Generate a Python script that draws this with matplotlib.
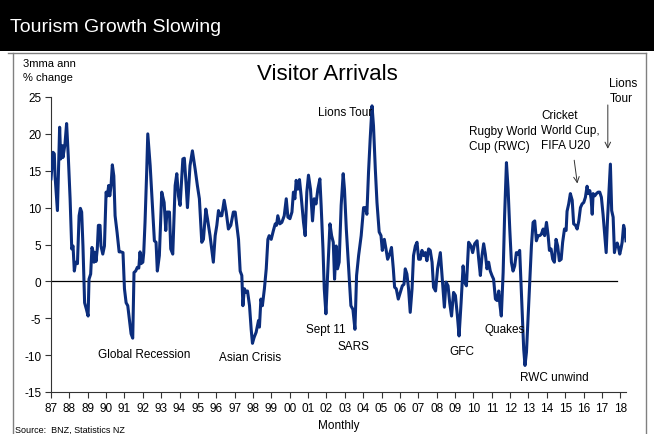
import matplotlib
matplotlib.use("Agg")
import matplotlib.pyplot as plt
from matplotlib.patches import Rectangle
from matplotlib.lines import Line2D

plt.rcParams["font.family"] = ["Liberation Sans", "DejaVu Sans"]
plt.rcParams["axes.unicode_minus"] = False

# Visitor arrivals, 3mma annual % change (decimal year, value)
dates = [
    1987.00, 1987.11, 1987.18, 1987.22, 1987.35, 1987.47, 1987.53, 1987.62, 1987.65, 1987.76,
    1987.85, 1987.94, 1988.04, 1988.13, 1988.20, 1988.27, 1988.34, 1988.44, 1988.53, 1988.60,
    1988.67, 1988.74, 1988.83, 1988.93, 1989.02, 1989.07, 1989.16, 1989.23, 1989.31, 1989.34,
    1989.40, 1989.45, 1989.52, 1989.58, 1989.67, 1989.72, 1989.82, 1989.91, 1990.00, 1990.07,
    1990.14, 1990.20, 1990.27, 1990.34, 1990.42, 1990.49, 1990.60, 1990.71, 1990.81, 1990.92,
    1991.00, 1991.09, 1991.18, 1991.29, 1991.36, 1991.45, 1991.52, 1991.61, 1991.70, 1991.78,
    1991.85, 1991.90, 1992.00, 1992.05, 1992.12, 1992.21, 1992.27, 1992.40, 1992.57, 1992.63,
    1992.72, 1992.79, 1992.90, 1993.03, 1993.16, 1993.25, 1993.31, 1993.45, 1993.52, 1993.63,
    1993.76, 1993.85, 1993.94, 1994.03, 1994.18, 1994.26, 1994.36, 1994.43, 1994.57, 1994.70,
    1994.85, 1994.97, 1995.08, 1995.21, 1995.30, 1995.43, 1995.52, 1995.66, 1995.84, 1995.94,
    1996.03, 1996.12, 1996.21, 1996.30, 1996.43, 1996.54, 1996.66, 1996.79, 1996.93, 1997.03,
    1997.21, 1997.30, 1997.39, 1997.45, 1997.53, 1997.63, 1997.70, 1997.81, 1997.90, 1997.97,
    1998.06, 1998.17, 1998.30, 1998.35, 1998.43, 1998.51, 1998.62, 1998.72, 1998.81, 1998.88,
    1998.99, 1999.11, 1999.21, 1999.28, 1999.35, 1999.46, 1999.57, 1999.70, 1999.81, 1999.90,
    2000.01, 2000.12, 2000.20, 2000.28, 2000.35, 2000.44, 2000.53, 2000.62, 2000.75, 2000.84,
    2000.93, 2001.02, 2001.13, 2001.24, 2001.33, 2001.43, 2001.53, 2001.64, 2001.71, 2001.81,
    2001.88, 2001.97, 2002.06, 2002.19, 2002.28, 2002.37, 2002.44, 2002.53, 2002.60, 2002.69,
    2002.80, 2002.91, 2002.98, 2003.08, 2003.20, 2003.33, 2003.44, 2003.55, 2003.64, 2003.75,
    2003.89, 2004.02, 2004.13, 2004.20, 2004.29, 2004.38, 2004.48, 2004.56, 2004.66, 2004.75,
    2004.87, 2004.97, 2005.04, 2005.15, 2005.24, 2005.33, 2005.44, 2005.54, 2005.64, 2005.71,
    2005.80, 2005.91, 2006.02, 2006.13, 2006.22, 2006.29, 2006.38, 2006.47, 2006.56, 2006.66,
    2006.74, 2006.84, 2006.93, 2007.02, 2007.11, 2007.20, 2007.29, 2007.38, 2007.47, 2007.56,
    2007.65, 2007.75, 2007.83, 2007.94, 2008.05, 2008.20, 2008.29, 2008.42, 2008.51, 2008.62,
    2008.71, 2008.81, 2008.92, 2009.02, 2009.13, 2009.22, 2009.33, 2009.44, 2009.52, 2009.62,
    2009.74, 2009.87, 2009.96, 2010.07, 2010.20, 2010.29, 2010.38, 2010.47, 2010.56, 2010.65,
    2010.74, 2010.83, 2010.92, 2011.01, 2011.10, 2011.20, 2011.29, 2011.38, 2011.45, 2011.52,
    2011.62, 2011.70, 2011.80, 2011.89, 2011.98, 2012.07, 2012.16, 2012.25, 2012.34, 2012.43,
    2012.52, 2012.60, 2012.67, 2012.74, 2012.81, 2012.89, 2012.98, 2013.07, 2013.16, 2013.25,
    2013.34, 2013.43, 2013.52, 2013.61, 2013.70, 2013.80, 2013.88, 2013.98, 2014.07, 2014.14,
    2014.23, 2014.32, 2014.41, 2014.50, 2014.59, 2014.68, 2014.78, 2014.86, 2014.96, 2015.05,
    2015.10, 2015.19, 2015.28, 2015.38, 2015.46, 2015.56, 2015.65, 2015.74, 2015.83, 2015.92,
    2016.01, 2016.10, 2016.19, 2016.26, 2016.34, 2016.41, 2016.47, 2016.52, 2016.61, 2016.70,
    2016.79, 2016.88, 2016.97, 2017.06, 2017.15, 2017.23, 2017.30, 2017.39, 2017.46, 2017.53,
    2017.61, 2017.68, 2017.75, 2017.83, 2017.90, 2017.97, 2018.05, 2018.10, 2018.18, 2018.25,
    2018.31,
]
arrivals_pct = [
    13.9, 17.5, 17.3, 14.3, 9.6, 20.9, 16.6, 18.4, 16.8, 18.6,
    21.4, 17.0, 11.2, 4.4, 4.8, 1.4, 2.6, 2.4, 8.9, 9.9,
    9.4, 4.8, -2.9, -3.8, -4.7, 0.3, 1.0, 4.6, 3.9, 2.6,
    3.9, 2.7, 4.4, 7.6, 7.6, 4.8, 3.7, 4.8, 12.1, 11.6,
    13.0, 11.6, 13.0, 15.8, 14.3, 8.9, 6.6, 4.0, 4.0, 3.9,
    -1.0, -2.9, -3.3, -5.6, -7.1, -7.7, 1.2, 1.4, 1.9, 1.8,
    4.0, 2.4, 2.6, 3.9, 8.0, 14.8, 20.0, 15.7, 8.0, 5.5,
    5.3, 1.4, 3.5, 12.1, 10.7, 6.9, 9.4, 9.4, 4.4, 3.7,
    13.0, 14.6, 11.6, 10.3, 16.6, 16.7, 13.0, 10.0, 15.7, 17.7,
    15.2, 13.0, 11.2, 5.3, 5.7, 9.8, 8.5, 6.2, 2.6, 6.2,
    7.6, 9.6, 8.9, 8.9, 11.0, 9.4, 7.1, 7.6, 9.4, 9.4,
    5.7, 1.4, 0.8, -3.3, -1.0, -1.5, -1.3, -3.3, -6.5, -8.4,
    -7.6, -6.9, -5.3, -6.2, -2.4, -3.3, -1.0, 1.7, 5.7, 6.2,
    5.7, 6.9, 7.8, 7.6, 8.9, 7.8, 8.0, 8.9, 11.2, 8.7,
    8.5, 9.4, 12.1, 11.2, 13.7, 12.5, 13.8, 11.6, 8.0, 6.2,
    12.1, 14.4, 12.5, 8.2, 11.2, 10.5, 12.5, 13.9, 10.3, 4.4,
    -1.0, -4.4, 0.8, 7.8, 6.2, 5.3, 0.3, 4.8, 1.7, 2.6,
    10.3, 14.6, 12.5, 7.1, 2.1, -3.3, -3.8, -6.5, 0.8, 3.5,
    6.2, 10.0, 10.0, 9.1, 14.8, 19.3, 23.8, 21.1, 15.2, 10.7,
    6.7, 6.2, 4.2, 5.7, 4.4, 3.0, 3.7, 4.6, 1.7, -0.8,
    -1.0, -2.4, -1.5, -0.6, -0.4, 1.7, 1.0, -1.0, -4.2, -1.0,
    3.5, 4.8, 5.3, 3.0, 3.0, 4.2, 3.5, 3.9, 2.8, 4.4,
    4.2, 2.6, -0.8, -1.3, 1.7, 3.9, 0.8, -3.5, -0.1, -0.6,
    -2.9, -4.7, -1.5, -1.9, -4.7, -7.4, -2.9, 2.1, -0.1, -0.6,
    5.3, 4.8, 3.9, 5.1, 5.5, 3.0, 0.8, 3.5, 5.1, 3.7,
    1.7, 2.6, 1.4, 0.8, 0.3, -2.4, -2.6, -1.3, -3.3, -4.7,
    1.2, 8.9, 16.1, 12.5, 7.1, 2.6, 1.4, 2.1, 3.9, 3.7,
    4.2, -0.6, -4.7, -9.2, -11.4, -9.6, -4.7, 0.3, 4.8, 8.0,
    8.2, 5.5, 6.2, 6.2, 6.4, 7.1, 6.2, 8.0, 6.2, 4.2,
    4.4, 3.0, 2.6, 5.7, 4.8, 2.8, 3.0, 5.3, 7.1, 6.9,
    9.5, 10.5, 11.9, 11.0, 7.8, 7.6, 7.1, 8.2, 10.0, 10.5,
    10.7, 11.4, 12.9, 11.9, 12.3, 11.2, 9.1, 11.9, 11.6, 11.9,
    12.1, 12.1, 11.4, 9.1, 6.4, 3.9, 8.2, 12.5, 15.9, 9.6,
    8.7, 3.9, 4.8, 5.2, 4.6, 3.7, 4.6, 5.3, 7.6, 6.9,
    5.5,
]

year_ticks = list(range(1987, 2019))
year_labels = [f"{y % 100:02d}" for y in year_ticks]
pct_ticks = [-15, -10, -5, 0, 5, 10, 15, 20, 25]

# event labels: (text, x, y, horizontal alignment)
events = [
    ("Lions Tour", 2004.5, 23.0, "right"),
    ("Global Recession", 1992.07, -9.8, "center"),
    ("Asian Crisis", 1997.85, -10.2, "center"),
    ("Sept 11", 2001.99, -6.5, "center"),
    ("SARS", 2003.48, -8.8, "center"),
    ("GFC", 2009.40, -9.4, "center"),
    ("Quakes", 2011.69, -6.4, "center"),
    ("RWC unwind", 2014.38, -12.9, "center"),
    ("Rugby World\nCup (RWC)", 2009.78, 19.4, "left"),
    ("Cricket\nWorld Cup,\nFIFA U20", 2013.70, 20.5, "left"),
    ("Lions\nTour", 2017.41, 25.9, "left"),
]

navy = "#0b2d7c"

fig = plt.figure(figsize=(6.54, 4.35), dpi=100)

# black header band + grey frame round the chart panel
fig.patches.append(Rectangle((0, 1 - 52 / 435), 1, 52 / 435, transform=fig.transFigure,
                             facecolor="black", edgecolor="none", zorder=0))
fig.add_artist(Line2D([8 / 654, 646 / 654], [1 - 54 / 435] * 2, color="#808080", lw=1))
fig.add_artist(Line2D([13 / 654] * 2, [0, 1 - 54 / 435], color="#808080", lw=1))
fig.add_artist(Line2D([646 / 654] * 2, [0, 1 - 54 / 435], color="#808080", lw=1))

fig.text(10 / 654, 1 - 27 / 435, "Tourism Growth Slowing", color="white",
         fontsize=14, va="center", ha="left")

ax = fig.add_axes([51 / 654, 42 / 435, 575 / 654, 295 / 435])
ax.plot(dates, arrivals_pct, color=navy, lw=2.2, solid_joinstyle="round", zorder=3)
ax.plot([1987, 2017.8], [0, 0], color="black", lw=0.9, zorder=2)

ax.set_xlim(1987, 2018.31)
ax.set_ylim(-15, 25)
ax.set_xticks(year_ticks)
ax.set_xticklabels(year_labels)
ax.set_yticks(pct_ticks)
ax.tick_params(length=4, width=0.8, labelsize=8.5, color="#333333", pad=3)
for side in ["top", "right"]:
    ax.spines[side].set_visible(False)
for side in ["left", "bottom"]:
    ax.spines[side].set_color("#333333")
    ax.spines[side].set_linewidth(0.8)

ax.set_xlabel("Monthly", fontsize=8.5, labelpad=4)
fig.text(23 / 654, 1 - 71 / 435, "3mma ann\n% change", fontsize=8, va="center",
         ha="left", linespacing=1.45)
fig.text(0.5, 1 - 75 / 435, "Visitor Arrivals", fontsize=16, ha="center", va="center")

for label, x, y, ha in events:
    ax.text(x, y, label, fontsize=8.5, ha=ha, va="center", linespacing=1.35,
            clip_on=False, zorder=4)

ax.annotate("", xy=(2015.68, 12.9), xytext=(2015.47, 16.8),
            arrowprops=dict(arrowstyle="->", color="#333333", lw=0.7))
ax.annotate("", xy=(2017.32, 17.6), xytext=(2017.32, 24.3),
            arrowprops=dict(arrowstyle="->", color="#333333", lw=0.7),
            annotation_clip=False)

fig.text(15 / 654, 5 / 435, "Source:  BNZ, Statistics NZ", fontsize=6.5,
         ha="left", va="center")

fig.savefig("out.png", dpi=100, facecolor="white")
